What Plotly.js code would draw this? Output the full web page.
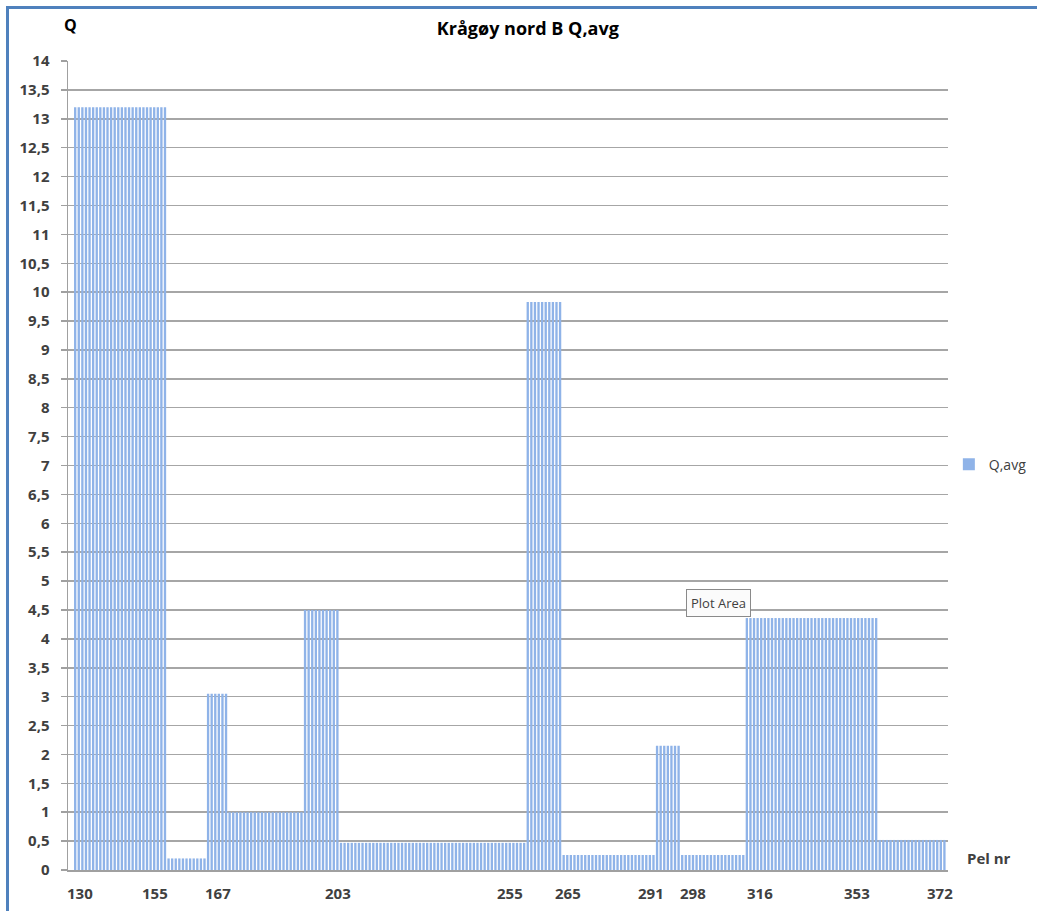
<!DOCTYPE html>
<html>
<head>
<meta charset="utf-8">
<script src="https://cdn.plot.ly/plotly-3.0.1.min.js"></script>
<style>
html,body{margin:0;padding:0;background:#fff;}
#frame{position:absolute;left:6px;top:6px;width:1100px;height:1000px;border-top:3px solid #4f81bd;border-left:3px solid #4f81bd;box-sizing:border-box;}
#chart{position:absolute;left:0;top:0;width:1037px;height:911px;}
</style>
</head>
<body>
<div id="frame"></div>
<div id="chart"></div>
<script>
// Pel nr (pile numbers) 130..372
const pelNr = [
130,131,132,133,134,135,136,137,138,139,140,141,142,143,144,145,146,147,148,149,
150,151,152,153,154,155,156,157,158,159,160,161,162,163,164,165,166,167,168,169,
170,171,172,173,174,175,176,177,178,179,180,181,182,183,184,185,186,187,188,189,
190,191,192,193,194,195,196,197,198,199,200,201,202,203,204,205,206,207,208,209,
210,211,212,213,214,215,216,217,218,219,220,221,222,223,224,225,226,227,228,229,
230,231,232,233,234,235,236,237,238,239,240,241,242,243,244,245,246,247,248,249,
250,251,252,253,254,255,256,257,258,259,260,261,262,263,264,265,266,267,268,269,
270,271,272,273,274,275,276,277,278,279,280,281,282,283,284,285,286,287,288,289,
290,291,292,293,294,295,296,297,298,299,300,301,302,303,304,305,306,307,308,309,
310,311,312,313,314,315,316,317,318,319,320,321,322,323,324,325,326,327,328,329,
330,331,332,333,334,335,336,337,338,339,340,341,342,343,344,345,346,347,348,349,
350,351,352,353,354,355,356,357,358,359,360,361,362,363,364,365,366,367,368,369,
370,371,372
];
// Q,avg per pile
const qAvg = [
13.2,13.2,13.2,13.2,13.2,13.2,13.2,13.2,13.2,13.2,13.2,13.2,13.2,13.2,13.2,13.2,13.2,13.2,13.2,13.2,
13.2,13.2,13.2,13.2,13.2,13.2,0.2,0.2,0.2,0.2,0.2,0.2,0.2,0.2,0.2,0.2,0.2,3.05,3.05,3.05,
3.05,3.05,3.05,1.0,1.0,1.0,1.0,1.0,1.0,1.0,1.0,1.0,1.0,1.0,1.0,1.0,1.0,1.0,1.0,1.0,
1.0,1.0,1.0,1.0,4.5,4.5,4.5,4.5,4.5,4.5,4.5,4.5,4.5,4.5,0.47,0.47,0.47,0.47,0.47,0.47,
0.47,0.47,0.47,0.47,0.47,0.47,0.47,0.47,0.47,0.47,0.47,0.47,0.47,0.47,0.47,0.47,0.47,0.47,0.47,0.47,
0.47,0.47,0.47,0.47,0.47,0.47,0.47,0.47,0.47,0.47,0.47,0.47,0.47,0.47,0.47,0.47,0.47,0.47,0.47,0.47,
0.47,0.47,0.47,0.47,0.47,0.47,9.83,9.83,9.83,9.83,9.83,9.83,9.83,9.83,9.83,9.83,0.26,0.26,0.26,0.26,
0.26,0.26,0.26,0.26,0.26,0.26,0.26,0.26,0.26,0.26,0.26,0.26,0.26,0.26,0.26,0.26,0.26,0.26,0.26,0.26,
0.26,0.26,2.15,2.15,2.15,2.15,2.15,2.15,2.15,0.26,0.26,0.26,0.26,0.26,0.26,0.26,0.26,0.26,0.26,0.26,
0.26,0.26,0.26,0.26,0.26,0.26,0.26,4.36,4.36,4.36,4.36,4.36,4.36,4.36,4.36,4.36,4.36,4.36,4.36,4.36,
4.36,4.36,4.36,4.36,4.36,4.36,4.36,4.36,4.36,4.36,4.36,4.36,4.36,4.36,4.36,4.36,4.36,4.36,4.36,4.36,
4.36,4.36,4.36,4.36,0.52,0.52,0.52,0.52,0.52,0.52,0.52,0.52,0.52,0.52,0.52,0.52,0.52,0.52,0.52,0.52,
0.52,0.52,0.52
];
// Labelled pile numbers on the x axis
const xTickLabels = [130,155,167,203,255,265,291,298,316,353,372];
// horizontal nudges (px) of those labels, as placed by hand in the original chart
const xLabelShift = [5,-10,10,1,-14,8,-2,14,17,-19,-4];

const FONT = 'Open Sans, Liberation Sans, sans-serif';
const tickFont = {family: FONT, size: 15, color: '#404040', weight: 'bold'};

const trace = {
  type: 'bar',
  x: pelNr,
  y: qAvg,
  name: 'Q,avg',
  marker: {color: '#8fb3e8', line: {width: 0}},
  hoverinfo: 'skip'
};

const labelAnnotations = xTickLabels.map((v, i) => ({
  text: String(v), x: v, xref: 'x', y: 0, yref: 'paper',
  xanchor: 'center', yanchor: 'top', xshift: xLabelShift[i], yshift: -11,
  showarrow: false, font: tickFont
}));

const layout = {
  width: 1037, height: 911,
  margin: {l: 68, r: 89, t: 61, b: 41},
  paper_bgcolor: 'rgba(0,0,0,0)',
  plot_bgcolor: 'rgba(0,0,0,0)',
  separators: ', ',
  bargap: 0.35,
  title: {text: 'Krågøy nord B Q,avg', x: 0.509, xanchor: 'center', y: 0.969, yanchor: 'middle',
          font: {family: FONT, size: 18, color: '#000', weight: 'bold'}},
  xaxis: {
    range: [128, 373], automargin: false,
    showticklabels: false,
    ticks: '', showgrid: false, zeroline: false,
    showline: true, linecolor: '#a0a0a0', linewidth: 1.5
  },
  yaxis: {
    range: [0, 14], dtick: 0.5, tick0: 0, automargin: false,
    tickformat: '.1~f',
    ticks: 'outside', ticklen: 6, tickcolor: '#a0a0a0', tickwidth: 1.5,
    showgrid: true, gridcolor: '#a6a6a6', gridwidth: 1.5,
    zeroline: false, showline: true, linecolor: '#a0a0a0', linewidth: 1.5,
    tickfont: tickFont, ticklabelstandoff: 8
  },
  showlegend: true,
  legend: {xref: 'container', yref: 'container', x: 0.915, xanchor: 'left', y: 0.49, yanchor: 'middle',
           font: {family: FONT, size: 14, color: '#404040'}, bgcolor: 'rgba(0,0,0,0)',
           itemwidth: 30},
  annotations: [
    {text: 'Q', xref: 'paper', yref: 'paper', x: 0.003, y: 1.044, xanchor: 'center', yanchor: 'middle',
     showarrow: false, font: {family: FONT, size: 16, color: '#000', weight: 'bold'}},
    {text: 'Pel nr', xref: 'paper', yref: 'paper', x: 1.019, y: 0.015, xanchor: 'left', yanchor: 'middle',
     showarrow: false, font: {family: FONT, size: 15, color: '#404040', weight: 'bold'}},
    {text: 'Plot Area', xref: 'paper', yref: 'paper', x: 0.739, y: 0.33, xanchor: 'center', yanchor: 'middle',
     showarrow: false, font: {family: FONT, size: 13, color: '#404040'},
     bgcolor: '#fbfbfb', bordercolor: '#8a8a8a', borderwidth: 1, borderpad: 4}
  ].concat(labelAnnotations)
};

Plotly.newPlot('chart', [trace], layout, {displayModeBar: false, staticPlot: true});
</script>
</body>
</html>
